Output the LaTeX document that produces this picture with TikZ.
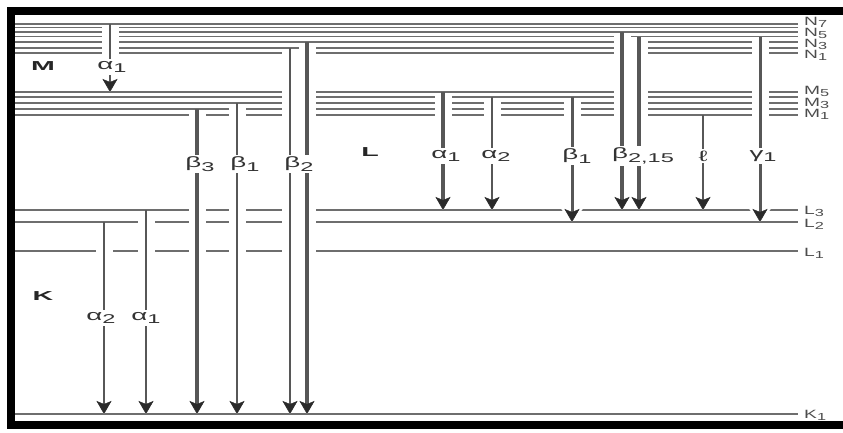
\documentclass[tikz,border=0pt]{standalone}
\usepackage{fontspec}
\usepackage{graphicx}
\setmainfont{Liberation Sans}
\newfontfamily\widefont{Liberation Sans}[FakeStretch=1.85]
\newfontfamily\levelfont{Liberation Sans}[FakeStretch=1.6]
\newfontfamily\shellfont{Liberation Sans}[FakeStretch=2.2]
\usetikzlibrary{arrows.meta}
\definecolor{levelgray}{HTML}{6E6E6E}
\definecolor{linegray}{HTML}{575757}
\definecolor{headgray}{HTML}{2A2A2A}
\newcommand\lsub[1]{\raisebox{-.45ex}{\scalebox{.85}{#1}}}
\begin{document}
\begin{tikzpicture}[x=1pt,y=-1pt,
    level/.style={draw=levelgray, line width=1.5pt},
    trans/.style={draw=linegray, -{Stealth[length=13pt,width=15pt,inset=3pt,line width=0.5pt,color=headgray]}},
    halo/.style={draw=white, line width=17pt, shorten <=2pt, -{Stealth[length=18pt,width=30pt,inset=0pt,line width=0pt]}},
    greek/.style={fill=white, inner sep=2pt, text=black!80, font=\widefont\fontsize{15}{15}\selectfont},
    levellabel/.style={anchor=base west, inner sep=0pt, text=black!70, font=\levelfont\fontsize{12}{12}\selectfont},
    shell/.style={text=black!85, font=\shellfont\bfseries\fontsize{13}{13}\selectfont}]
  \useasboundingbox (0,0) rectangle (843,432);
  % energy levels
  \foreach \n/\y in {N7/24,N6/27.5,N5/32,N4/36.5,N3/42,N2/48,N1/53,
      M5/92,M4/97,M3/103,M2/109,M1/115,L3/210,L2/222,L1/251,K1/414}{
    \coordinate (\n) at (798,\y);
    \draw[level] (15,\y) -- (\n);
  }
  % transitions: x / from / to / width
  \foreach \x/\a/\b/\w in {110/N7/M5/2.6,104/L2/K1/2.6,146/L3/K1/2.8,197/M2/K1/4.2,
      237/M3/K1/2.6,290/N2/K1/2.4,307/N3/K1/3.6,443/M5/L3/3.6,492/M4/L3/2.2,
      572/M4/L2/3.0,622/N5/L3/4.6,639/N4/L3/3.6,703/M1/L3/2.2,760/N4/L2/3.0}
    \draw[halo] (\x,0 |- \a) -- (\x,0 |- \b);
  \foreach \x/\a/\b/\w in {110/N7/M5/2.6,104/L2/K1/2.6,146/L3/K1/2.8,197/M2/K1/4.2,
      237/M3/K1/2.6,290/N2/K1/2.4,307/N3/K1/3.6,443/M5/L3/3.6,492/M4/L3/2.2,
      572/M4/L2/3.0,622/N5/L3/4.6,639/N4/L3/3.6,703/M1/L3/2.2,760/N4/L2/3.0}
    \draw[trans, line width=\w pt] (\x,0 |- \a) -- (\x,0 |- \b);
  % line labels
  \node[greek] (ma1) at (112,67) {α\lsub{1}};
  \node[greek] (ka2) at (101,318) {α\lsub{2}};
  \node[greek] (ka1) at (146,318) {α\lsub{1}};
  \node[greek] (kb3) at (200,164) {β\lsub{3}};
  \node[greek] (kb1) at (245,164) {β\lsub{1}};
  \node[greek] (kb2) at (299,164) {β\lsub{2}};
  \node[greek] (la1) at (446,156) {α\lsub{1}};
  \node[greek] (la2) at (496,156) {α\lsub{2}};
  \node[greek] (lb1) at (577,156) {β\lsub{1}};
  \node[greek] (lb2) at (643,156) {β\lsub{2,15}};
  \node[greek] (ll) at (703,156) {ℓ};
  \node[greek] (lg1) at (763,156) {γ\lsub{1}};
  % shells
  \node[shell] (shM) at (43,66) {M};
  \node[shell] (shL) at (370,152) {L};
  \node[shell] (shK) at (43,296) {K};
  % level names
  \foreach \l/\s/\b in {N/7/25,N/5/36,N/3/47,N/1/58,M/5/94,M/3/106,M/1/117,
      L/3/214,L/2/227,L/1/256,K/1/418}
    \node[levellabel] (lab\l\s) at (804,\b) {\l\lsub{\s}};
  % frame
  \draw[line width=8pt, miter limit=4] (843,11) -- (11,11) -- (11,425) -- (843,425);
\end{tikzpicture}
\end{document}
